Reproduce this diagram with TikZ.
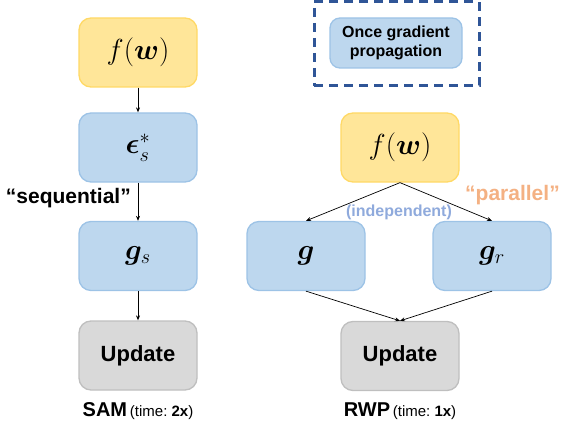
\RequirePackage{fix-cm}
\documentclass[tikz,border=0pt]{standalone}
\usepackage{amsmath,bm}
\usepackage{fontspec}
\setmainfont{Liberation Sans}
\usetikzlibrary{arrows.meta}
\definecolor{ylwfill}{HTML}{FFE699}
\definecolor{ylwdraw}{HTML}{FFD966}
\definecolor{blufill}{HTML}{BDD7EE}
\definecolor{bludraw}{HTML}{9DC3E6}
\definecolor{gryfill}{HTML}{D9D9D9}
\definecolor{grydraw}{HTML}{BFBFBF}
\definecolor{dashblue}{HTML}{2F5597}
\definecolor{indepblue}{HTML}{8FAADC}
\definecolor{parorange}{HTML}{F4B183}
\begin{document}
\begin{tikzpicture}[x=1pt,y=-1pt,
  box/.style={rounded corners=12pt, minimum width=118pt, minimum height=69pt, line width=1.3pt, inner sep=0pt},
  ybox/.style={box, fill=ylwfill, draw=ylwdraw},
  bbox/.style={box, fill=blufill, draw=bludraw},
  gbox/.style={box, fill=gryfill, draw=grydraw, font=\bfseries\fontsize{22}{26}\selectfont},
  mathtxt/.style={font=\fontsize{29}{34}\selectfont},
  arr/.style={-{Stealth[length=5pt,width=4pt]}, line width=0.7pt},
  lbl/.style={font=\bfseries\fontsize{21}{25}\selectfont}]
\useasboundingbox (0,0) rectangle (564,422);

% legend
\node[draw=dashblue, dash pattern=on 9pt off 6pt, line width=3pt, minimum width=165pt, minimum height=84pt, inner sep=0pt] (legend) at (396.5,44) {};
\node[rounded corners=10pt, fill=blufill, draw=bludraw, line width=1.3pt, minimum width=132pt, minimum height=50pt, align=center, font=\bfseries\fontsize{16}{19}\selectfont] (legbox) at (396,43) {Once gradient\\propagation};

% SAM column
\node[ybox, mathtxt] (fw1) at (138,52.5) {$f(\bm{w})$};
\node[bbox, mathtxt] (eps) at (138,147.5) {$\bm{\epsilon}_s^*$};
\node[bbox, mathtxt] (gs) at (138,256) {$\bm{g}_s$};
\node[gbox] (up1) at (138,355.5) {Update};
\draw[arr] (fw1) -- (eps);
\draw[arr] (eps) -- (gs);
\draw[arr] (gs) -- (up1);
\node[lbl, anchor=east, inner sep=0pt] (seq) at (131,198) {“sequential”};
\node (samlbl) at (138,411) {{\bfseries\fontsize{20}{24}\selectfont SAM} {\fontsize{15}{18}\selectfont (time:~\textbf{2x})}};

% RWP column
\node[ybox, mathtxt] (fw2) at (400,147.5) {$f(\bm{w})$};
\node[bbox, mathtxt] (g) at (306,256) {$\bm{g}$};
\node[bbox, mathtxt] (gr) at (492,256) {$\bm{g}_r$};
\node[gbox] (up2) at (400,356) {Update};
\draw[arr] (fw2.south) -- (g.north);
\draw[arr] (fw2.south) -- (gr.north);
\draw[arr] (g.south) -- (up2.north);
\draw[arr] (gr.south) -- (up2.north);
\node[font=\bfseries\fontsize{16}{19}\selectfont, text=indepblue, inner sep=0pt] (indep) at (399,212) {(independent)};
\node[lbl, text=parorange, anchor=west, inner sep=0pt] (par) at (465,195) {“parallel”};
\node (rwplbl) at (400,411) {{\bfseries\fontsize{20}{24}\selectfont RWP} {\fontsize{15}{18}\selectfont (time:~\textbf{1x})}};
\end{tikzpicture}
\end{document}
